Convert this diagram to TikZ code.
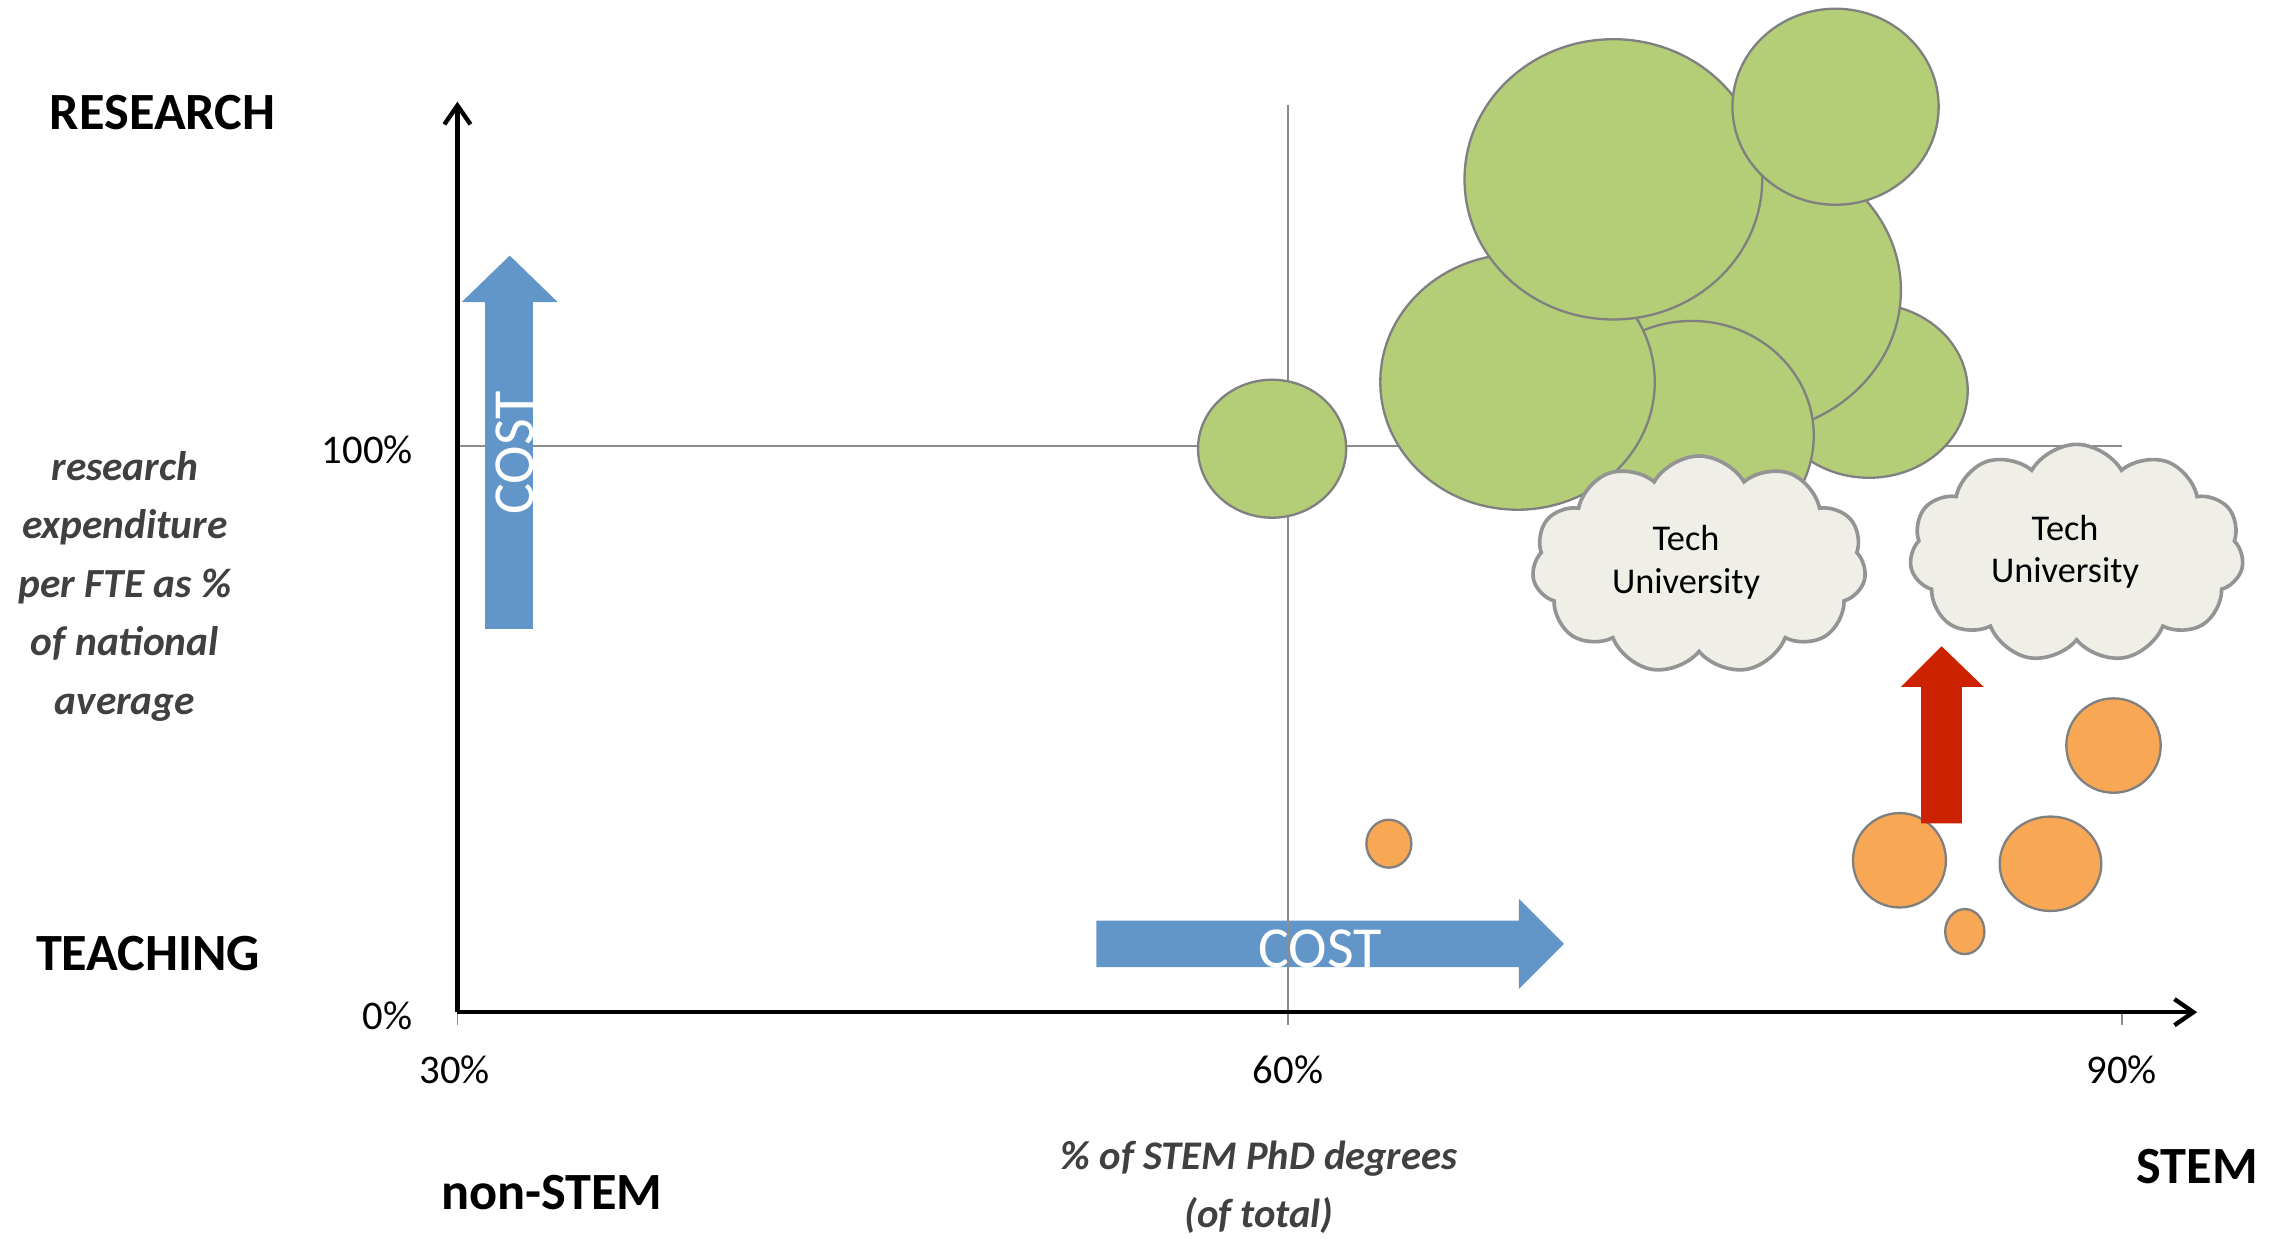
\documentclass[tikz,border=0pt]{standalone}
\usepackage{fontspec}
\setmainfont{Carlito}
\usetikzlibrary{arrows.meta,shapes.geometric,shapes.symbols}
\definecolor{cblue}{RGB}{98,150,201}
\definecolor{cgreen}{RGB}{179,206,119}
\definecolor{corange}{RGB}{248,167,84}
\definecolor{cred}{RGB}{204,34,0}
\definecolor{cgrid}{RGB}{140,140,140}
\definecolor{cedge}{RGB}{128,128,128}
\definecolor{ccloud}{RGB}{239,239,231}
\definecolor{ccloudedge}{RGB}{148,148,148}
\definecolor{clabel}{RGB}{64,64,64}
\begin{document}
\begin{tikzpicture}[x=1pt,y=-1pt,
  bubble/.style={ellipse, draw=cedge, line width=1.6pt, inner sep=0pt},
  gbub/.style={bubble, fill=cgreen},
  obub/.style={bubble, fill=corange},
  gridline/.style={draw=cgrid, line width=1.2pt},
  axisline/.style={line width=3pt, -{Straight Barb[length=13pt,width=18pt]}},
  big/.style={font=\fontsize{36}{42}\selectfont\bfseries, inner sep=0pt, anchor=base},
  ticklab/.style={font=\fontsize{28}{34}\selectfont, inner sep=0pt, anchor=base},
  axlab/.style={font=\fontsize{28.5}{40.3}\selectfont\bfseries\itshape, text=clabel, align=center, inner sep=0pt},
  cloudbox/.style={cloud, cloud puffs=11, cloud puff arc=120, cloud ignores aspect, draw=ccloudedge, fill=ccloud, line width=2.5pt, inner sep=0pt, minimum width=230pt, minimum height=150pt},
  cloudtext/.style={font=\fontsize{25}{29.5}\selectfont, align=center, inner sep=0pt},
  costtxt/.style={font=\fontsize{40}{44}\selectfont, text=white, inner sep=0pt, anchor=base},
  blockarrow/.style={fill=cblue, draw=none}
]
\useasboundingbox (0,0) rectangle (1568,853);

% horizontal cost arrow
\fill[blockarrow] (755,634) -- (1046,634) -- (1046,619) -- (1077,650) -- (1046,681) -- (1046,666) -- (755,666) -- cycle;
\node[costtxt] (hcost) at (909,666) {COST};

% grid lines and ticks
\coordinate (g60top) at (887,72);
\coordinate (g60bot) at (887,706);
\coordinate (h100l) at (315,307);
\coordinate (h100r) at (1461,307);
\coordinate (t30a) at (315,697);
\coordinate (t30b) at (315,706);
\coordinate (t90a) at (1461,697);
\coordinate (t90b) at (1461,706);
\draw[gridline] (g60top) -- (g60bot);
\draw[gridline] (h100l) -- (h100r);
\draw[gridline] (t30a) -- (t30b);
\draw[gridline] (t90a) -- (t90b);

% vertical cost arrow
\fill[blockarrow] (334,433) -- (334,208) -- (318,208) -- (351,176) -- (384,208) -- (367,208) -- (367,433) -- cycle;
\node[costtxt, rotate=90] (vcost) at (367.5,312) {COST};

% axes
\coordinate (origin) at (315,697);
\coordinate (ytip) at (315,70);
\coordinate (xtip) at (1513,697);
\draw[axisline] (origin) -- (ytip);
\draw[axisline] (origin) -- (xtip);

% green bubbles (back to front)
\node[gbub, minimum width=136pt, minimum height=120pt] (gD) at (1287,269) {};
\node[gbub, minimum width=218pt, minimum height=198pt] (gC) at (1200,200) {};
\node[gbub, minimum width=168pt, minimum height=158pt] (gE) at (1165,300) {};
\node[gbub, minimum width=189pt, minimum height=176pt] (gL) at (1045,263) {};
\node[gbub, minimum width=205pt, minimum height=193pt] (gA) at (1111,123.5) {};
\node[gbub, minimum width=142pt, minimum height=135pt] (gT) at (1264,73.5) {};
\node[gbub, minimum width=102pt, minimum height=95pt] (g60) at (876,309) {};

% orange bubbles
\node[obub, minimum width=31pt, minimum height=33pt] (o1) at (956.4,581) {};
\node[obub, minimum width=64pt, minimum height=65pt] (o2) at (1308,592.4) {};
\node[obub, minimum width=70pt, minimum height=65pt] (o3) at (1412,594.8) {};
\node[obub, minimum width=27pt, minimum height=31pt] (o4) at (1353,641.5) {};
\node[obub, minimum width=65pt, minimum height=65pt] (o5) at (1455.4,513.4) {};

% red arrow
\fill[cred] (1323,567) -- (1323,473) -- (1309,473) -- (1337,445) -- (1366,473) -- (1351,473) -- (1351,567) -- cycle;

% clouds
\node[cloudbox] (cloud1) at (1170,389) {};
\node[cloudtext] (ctext1) at (1161,387) {Tech\\University};
\node[cloudbox] (cloud2) at (1430,381) {};
\node[cloudtext] (ctext2) at (1422,380) {Tech\\University};

% labels
\node[big] (research) at (112,89) {RESEARCH};
\node[big] (teaching) at (102,668) {TEACHING};
\node[big] (nonstem) at (380,833) {non-STEM};
\node[big] (stem) at (1513,815) {STEM};
\node[ticklab] (l100) at (253,319) {100\%};
\node[ticklab] (l0) at (267,709) {0\%};
\node[ticklab] (l30) at (313,746) {30\%};
\node[ticklab] (l60) at (887,746) {60\%};
\node[ticklab] (l90) at (1461,746) {90\%};
\node[axlab, anchor=base] (ylab) at (86,492) {research\\expenditure\\per FTE as \%\\of national\\average};
\node[axlab, font=\fontsize{28}{40}\selectfont\bfseries\itshape, anchor=base] (xlab) at (867,845) {\% of STEM PhD degrees\\(of total)};
\end{tikzpicture}
\end{document}
